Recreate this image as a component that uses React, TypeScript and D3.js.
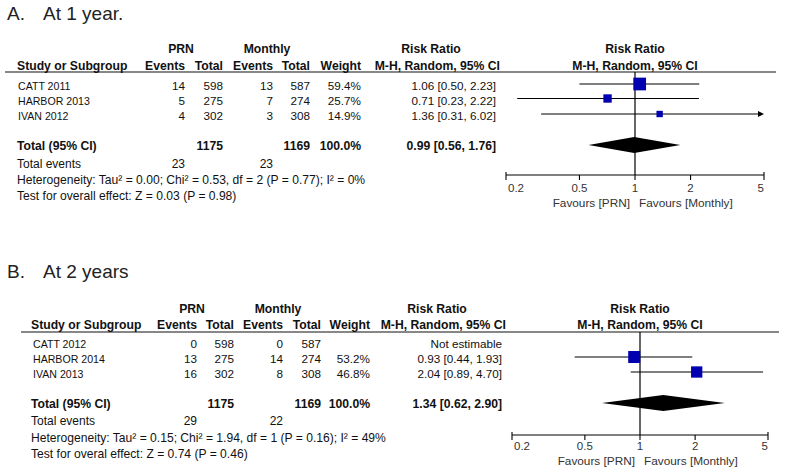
import React from "react";
import * as d3 from "d3";

// ---------- Data ----------
const studiesA = ["CATT 2011", "HARBOR 2013", "IVAN 2012"];
const prnEventsA = [14, 5, 4];
const prnTotalA = [598, 275, 302];
const monEventsA = [13, 7, 3];
const monTotalA = [587, 274, 308];
const weightA: (number | null)[] = [59.4, 25.7, 14.9];
const rrA: (number | null)[] = [1.06, 0.71, 1.36];
const loA: (number | null)[] = [0.5, 0.23, 0.31];
const hiA: (number | null)[] = [2.23, 2.22, 6.02];
const pooledA = [0.99, 0.56, 1.76];
const totalsA = [1175, 1169];
const totalEventsA = [23, 23];
const hetA = "Heterogeneity: Tau² = 0.00; Chi² = 0.53, df = 2 (P = 0.77); I² = 0%";
const testA = "Test for overall effect: Z = 0.03 (P = 0.98)";

const studiesB = ["CATT 2012", "HARBOR 2014", "IVAN 2013"];
const prnEventsB = [0, 13, 16];
const prnTotalB = [598, 275, 302];
const monEventsB = [0, 14, 8];
const monTotalB = [587, 274, 308];
const weightB: (number | null)[] = [null, 53.2, 46.8];
const rrB: (number | null)[] = [null, 0.93, 2.04];
const loB: (number | null)[] = [null, 0.44, 0.89];
const hiB: (number | null)[] = [null, 1.93, 4.7];
const pooledB = [1.34, 0.62, 2.9];
const totalsB = [1175, 1169];
const totalEventsB = [29, 22];
const hetB = "Heterogeneity: Tau² = 0.15; Chi² = 1.94, df = 1 (P = 0.16); I² = 49%";
const testB = "Test for overal effect: Z = 0.74 (P = 0.46)";

const tickValues = [0.2, 0.5, 1, 2, 5];
const tickLabels = ["0.2", "0.5", "1", "2", "5"];

// ---------- Layout ----------
const FONT = "'Liberation Sans', Arial, sans-serif";
const BLUE = "#0000b0";

type Layout = {
  letter: string; title: string; titleY: number;
  prnHdrY: number; hdrY: number; lineY: number; lineX1: number; lineX2: number;
  rowY: number[]; totalY: number; eventsY: number; hetY: number; testY: number;
  xHdr: number; xName: number; cols: number[]; prnC: number; monC: number; rrC: number;
  fx0: number; fx1: number; axisY: number; tickY: number; favY: number;
};

const layA: Layout = {
  letter: "A.", title: "At 1 year.", titleY: 20,
  prnHdrY: 53, hdrY: 70, lineY: 72, lineX1: 5, lineX2: 776,
  rowY: [90, 104.5, 120], totalY: 150, eventsY: 168, hetY: 184, testY: 200,
  xHdr: 17, xName: 18, cols: [185, 223, 273, 310, 361, 496], prnC: 181, monC: 267, rrC: 431,
  fx0: 506, fx1: 764, axisY: 175, tickY: 192, favY: 207,
};
const layB: Layout = {
  letter: "B.", title: "At 2 years", titleY: 278,
  prnHdrY: 313, hdrY: 329, lineY: 332, lineX1: 21, lineX2: 779,
  rowY: [348, 363, 378], totalY: 408, eventsY: 425, hetY: 442, testY: 458,
  xHdr: 31, xName: 33, cols: [197, 234, 283, 321, 370, 502], prnC: 192, monC: 278, rrC: 437,
  fx0: 512, fx1: 768, axisY: 435, tickY: 449.5, favY: 465,
};

const f2 = d3.format(".2f");
const f1 = d3.format(".1f");

function Panel(props: {
  lay: Layout; studies: string[]; prnE: number[]; prnT: number[]; monE: number[]; monT: number[];
  w: (number | null)[]; rr: (number | null)[]; lo: (number | null)[]; hi: (number | null)[];
  pooled: number[]; totals: number[]; events: number[]; het: string; test: string;
}) {
  const { lay, studies, prnE, prnT, monE, monT, w, rr, lo, hi, pooled, totals, events, het, test } = props;
  const x = d3.scaleLog().domain([0.2, 5]).range([lay.fx0, lay.fx1]);
  const x1 = x(1);
  const [c0, c1, c2, c3, c4, c5] = lay.cols;
  const body = { fontFamily: FONT, fontSize: 11.7, fill: "#111" } as const;
  const bold = { fontFamily: FONT, fontSize: 12.2, fontWeight: 700, fill: "#111" } as const;
  const dmax = pooled[0];
  const diamond = `M${x(pooled[1])},${lay.totalY - 5} L${x(dmax)},${lay.totalY - 13} L${x(pooled[2])},${lay.totalY - 5} L${x(dmax)},${lay.totalY + 3} Z`;
  return (
    <g>
      <text x={7} y={lay.titleY} fontFamily={FONT} fontSize={19} fill="#222">{lay.letter}</text>
      <text x={43} y={lay.titleY} fontFamily={FONT} fontSize={19} fill="#222">{lay.title}</text>

      {/* headers */}
      <text {...bold} x={lay.prnC} y={lay.prnHdrY} textAnchor="middle">PRN</text>
      <text {...bold} x={lay.monC} y={lay.prnHdrY} textAnchor="middle">Monthly</text>
      <text {...bold} x={lay.rrC} y={lay.prnHdrY} textAnchor="middle">Risk Ratio</text>
      <text {...bold} x={x1} y={lay.prnHdrY} textAnchor="middle">Risk Ratio</text>
      <text {...bold} x={lay.xHdr} y={lay.hdrY}>Study or Subgroup</text>
      <text {...bold} x={c0} y={lay.hdrY} textAnchor="end">Events</text>
      <text {...bold} x={c1} y={lay.hdrY} textAnchor="end">Total</text>
      <text {...bold} x={c2} y={lay.hdrY} textAnchor="end">Events</text>
      <text {...bold} x={c3} y={lay.hdrY} textAnchor="end">Total</text>
      <text {...bold} x={c4} y={lay.hdrY} textAnchor="end">Weight</text>
      <text {...bold} x={c5 + 4} y={lay.hdrY} textAnchor="end">M-H, Random, 95% CI</text>
      <text {...bold} x={x1} y={lay.hdrY} textAnchor="middle">M-H, Random, 95% CI</text>
      <line x1={lay.lineX1} x2={lay.lineX2} y1={lay.lineY} y2={lay.lineY} stroke="#111" strokeWidth={1.2} />

      {/* rows */}
      {studies.map((s, i) => {
        const y = lay.rowY[i];
        return (
          <g key={s}>
            <text {...body} fontSize={10.6} x={lay.xName} y={y}>{s}</text>
            <text {...body} x={c0} y={y} textAnchor="end">{prnE[i]}</text>
            <text {...body} x={c1} y={y} textAnchor="end">{prnT[i]}</text>
            <text {...body} x={c2} y={y} textAnchor="end">{monE[i]}</text>
            <text {...body} x={c3} y={y} textAnchor="end">{monT[i]}</text>
            {w[i] != null && <text {...body} x={c4} y={y} textAnchor="end">{f1(w[i] as number)}%</text>}
            <text {...body} x={c5} y={y} textAnchor="end">
              {rr[i] != null ? `${f2(rr[i] as number)} [${f2(lo[i] as number)}, ${f2(hi[i] as number)}]` : "Not estimable"}
            </text>
          </g>
        );
      })}

      {/* totals */}
      <text {...bold} x={lay.xHdr} y={lay.totalY}>Total (95% CI)</text>
      <text {...bold} x={c1} y={lay.totalY} textAnchor="end">{totals[0]}</text>
      <text {...bold} x={c3} y={lay.totalY} textAnchor="end">{totals[1]}</text>
      <text {...bold} x={c4} y={lay.totalY} textAnchor="end">100.0%</text>
      <text {...bold} x={c5} y={lay.totalY} textAnchor="end">{`${f2(pooled[0])} [${f2(pooled[1])}, ${f2(pooled[2])}]`}</text>
      <text {...body} fontSize={12} x={lay.xHdr} y={lay.eventsY}>Total events</text>
      <text {...body} fontSize={12} x={c0} y={lay.eventsY} textAnchor="end">{events[0]}</text>
      <text {...body} fontSize={12} x={c2} y={lay.eventsY} textAnchor="end">{events[1]}</text>
      <text {...body} fontSize={12.1} x={lay.xHdr} y={lay.hetY}>{het}</text>
      <text {...body} fontSize={12.1} x={lay.xHdr} y={lay.testY}>{test}</text>

      {/* forest plot */}
      <line x1={x1} x2={x1} y1={lay.lineY} y2={lay.axisY} stroke="#000" strokeWidth={1.2} />
      {studies.map((s, i) => {
        if (rr[i] == null) return null;
        const y = lay.rowY[i] - 6;
        const l = lo[i] as number, h = hi[i] as number;
        const over = h > 5;
        const xe = x(Math.min(h, 5));
        const size = 1.65 * Math.sqrt(w[i] as number);
        return (
          <g key={"f" + s}>
            <line x1={x(Math.max(l, 0.2))} x2={over ? xe - 4 : xe} y1={y} y2={y} stroke="#000" strokeWidth={1.1} />
            {over && <path d={`M${xe},${y} L${xe - 6},${y - 3} L${xe - 6},${y + 3} Z`} fill="#000" />}
            <rect x={x(rr[i] as number) - size / 2} y={y - size / 2} width={size} height={size} fill={BLUE} />
          </g>
        );
      })}
      <path d={diamond} fill="#000" />

      {/* axis */}
      <line x1={lay.fx0} x2={lay.fx1} y1={lay.axisY} y2={lay.axisY} stroke="#000" strokeWidth={1.2} />
      {tickValues.map((t, i) => {
        const tx = x(t);
        const end = i === 0 || i === tickValues.length - 1;
        const anchor = i === 0 ? "start" : i === tickValues.length - 1 ? "end" : "middle";
        const lx = i === 0 ? tx + 2 : tx;
        return (
          <g key={"t" + t}>
            <line x1={tx} x2={tx} y1={end ? lay.axisY - 3 : lay.axisY} y2={lay.axisY + 5} stroke="#000" strokeWidth={1.1} />
            <text x={lx} y={lay.tickY} textAnchor={anchor} fontFamily={FONT} fontSize={11.5} fill="#333">{tickLabels[i]}</text>
          </g>
        );
      })}
      <text x={x1 - 5} y={lay.favY} textAnchor="end" fontFamily={FONT} fontSize={11.8} fill="#333">Favours [PRN]</text>
      <text x={x1 + 4} y={lay.favY} textAnchor="start" fontFamily={FONT} fontSize={11.8} fill="#333">Favours [Monthly]</text>
    </g>
  );
}

export default function App() {
  return (
    <svg width={785} height={473} style={{ position: "absolute", left: 0, top: 0, background: "#fff" }}>
      <rect width={785} height={473} fill="#fff" />
      <Panel lay={layA} studies={studiesA} prnE={prnEventsA} prnT={prnTotalA} monE={monEventsA} monT={monTotalA}
        w={weightA} rr={rrA} lo={loA} hi={hiA} pooled={pooledA} totals={totalsA} events={totalEventsA} het={hetA} test={testA} />
      <Panel lay={layB} studies={studiesB} prnE={prnEventsB} prnT={prnTotalB} monE={monEventsB} monT={monTotalB}
        w={weightB} rr={rrB} lo={loB} hi={hiB} pooled={pooledB} totals={totalsB} events={totalEventsB} het={hetB} test={testB} />
    </svg>
  );
}
